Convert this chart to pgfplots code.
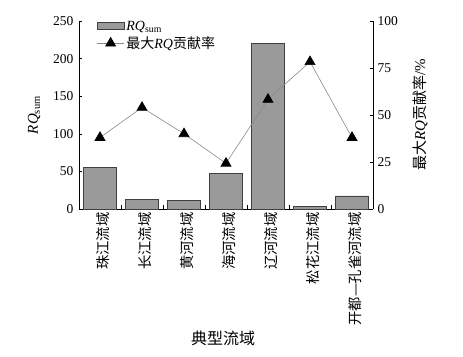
\documentclass[border=0pt]{standalone}
\usepackage{pgfplots}
\pgfplotsset{compat=1.18}
\usepackage{fontspec}
\setmainfont{Liberation Serif}
\newfontfamily\cjk{Noto Sans CJK SC}
\definecolor{barfill}{HTML}{9A9A9A}
\definecolor{linegray}{HTML}{8A8A8A}
\begin{document}
\begin{tikzpicture}
\path (-79pt,-147pt) rectangle (384pt,209pt);
\pgfplotsset{
  common/.style={
    scale only axis, width=294pt, height=188pt,
    at={(0pt,0pt)}, anchor=south west,
    xmin=-0.5, xmax=6.5,
    tick align=inside, major tick length=3pt, minor tick length=4pt,
    /pgf/number format/assume math mode=true,
    tick label style={font=\fontsize{13.5}{16}\selectfont},
    axis line style={black, line width=0.6pt},
    tick style={black, line width=0.5pt},
  }
}
\begin{axis}[common,
  axis y line*=left, axis x line*=bottom,
  ymin=0, ymax=250, ytick={0,50,...,250},
  xtick={0,...,6}, major x tick style={draw=none},
  minor xtick={0.5,1.5,...,5.5},
  xticklabels={珠江流域,长江流域,黄河流域,海河流域,辽河流域,松花江流域,开都—孔雀河流域},
  xticklabel style={rotate=90, anchor=east, font=\cjk\fontsize{14.3}{14.3}\selectfont, yshift=-3pt},
  yticklabel style={xshift=-2pt},
  ylabel={\textit{RQ}\textsubscript{sum}},
  ylabel style={at={(axis description cs:-0.153,0.5)}, anchor=center, font=\fontsize{15}{16}\selectfont},
  xlabel={\cjk 典型流域},
  xlabel style={at={(axis description cs:0.49,-0.686)}, anchor=center, font=\fontsize{16}{18}\selectfont},
]
\addplot[ybar, bar width=0.79, fill=barfill, draw=black!75, line width=0.5pt]
  coordinates {(0,55) (1,13) (2,11) (3,47.5) (4,220) (5,3) (6,17.5)};
\end{axis}
\begin{axis}[common,
  axis y line*=right, axis x line=none,
  ymin=0, ymax=100, ytick={0,25,...,100},
  yticklabel style={xshift=1pt},
  ylabel={{\cjk 最大}\textit{RQ}{\cjk 贡献率}/\%},
  ylabel style={at={(axis description cs:1.16,0.5)}, anchor=center, font=\fontsize{15}{16}\selectfont},
  legend style={at={(axis description cs:0.06,1.013)}, anchor=north west, draw=none, fill=none,
    font=\fontsize{14}{15}\selectfont, row sep=1pt, inner sep=0pt},
  legend cell align=left,
]
\addlegendimage{legend image code/.code={\draw[fill=barfill, draw=black!75, line width=0.5pt] (0pt,-3.5pt) rectangle (27pt,3.5pt);}}
\addlegendentry{\textit{RQ}\textsubscript{sum}}
\addplot[linegray, line width=0.6pt, mark=triangle*, mark size=5.8pt, mark options={black, fill=black},
  legend image code/.code={\draw[mark repeat=2,mark phase=2] plot coordinates {(0pt,0pt) (13.5pt,0pt) (27pt,0pt)};}]
  coordinates {(0,38) (1,54) (2,40) (3,24.3) (4,58.3) (5,78.3) (6,38)};
\addlegendentry{{\cjk 最大}\textit{RQ}{\cjk 贡献率}}
\end{axis}
\end{tikzpicture}
\end{document}
